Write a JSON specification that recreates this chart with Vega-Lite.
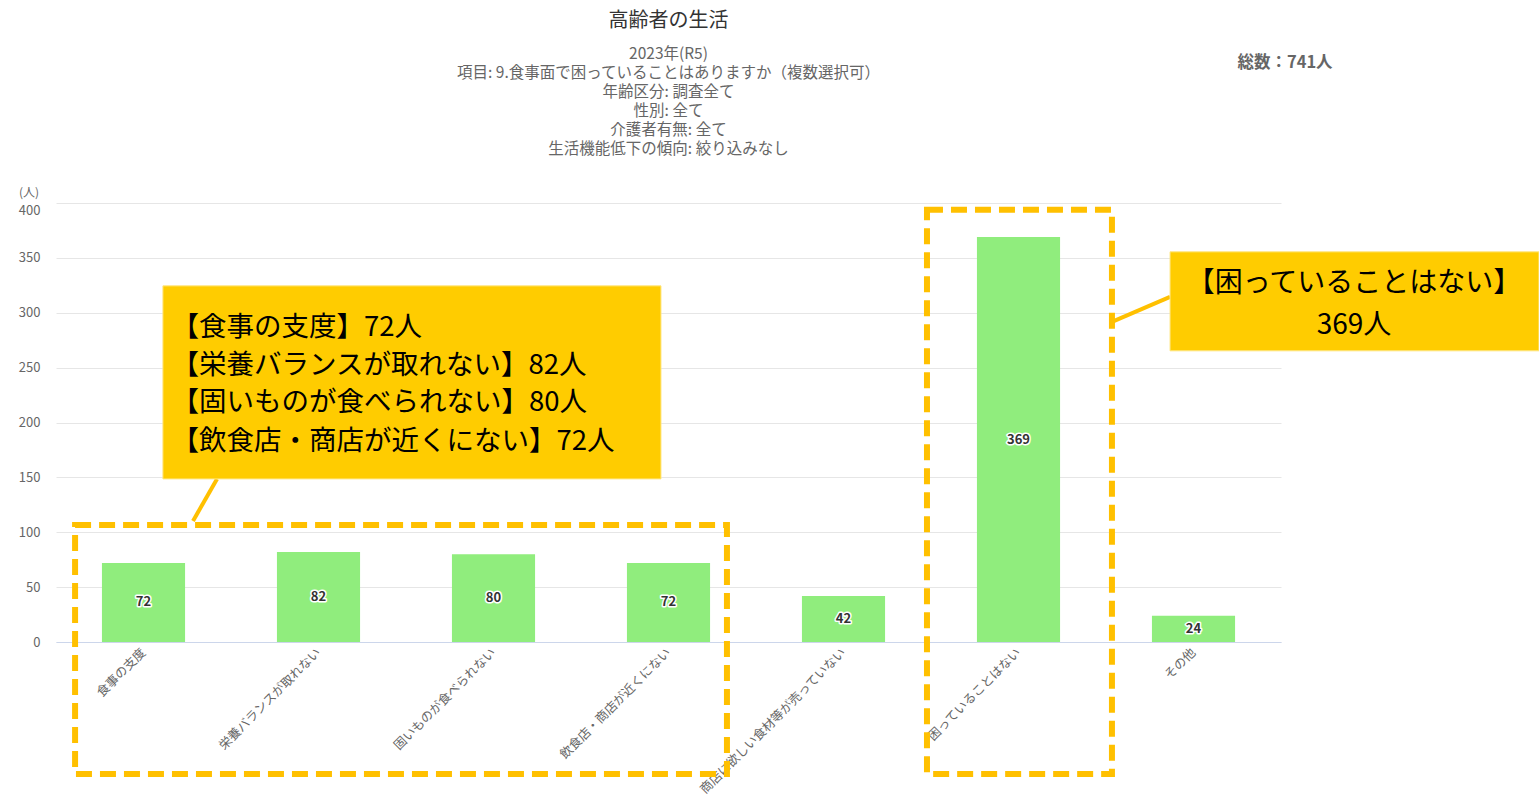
{
  "$schema": "https://vega.github.io/schema/vega-lite/v6.json",
  "width": 1225,
  "height": 439,
  "autosize": {"type": "none"},
  "padding": {"left": 56, "top": 203, "right": 258, "bottom": 156},
  "background": "white",
  "config": {"font": "Noto Sans CJK JP", "view": {"stroke": null}},
  "title": {
    "text": "高齢者の生活",
    "subtitle": ["2023年(R5)", "項目: 9.食事面で困っていることはありますか（複数選択可）", "年齢区分: 調査全て", "性別: 全て", "介護者有無: 全て", "生活機能低下の傾向: 絞り込みなし"],
    "anchor": "middle",
    "frame": "group",
    "fontSize": 20,
    "fontWeight": "normal",
    "color": "#333333",
    "subtitleFontSize": 15.5,
    "subtitleColor": "#666666",
    "subtitleLineHeight": 19,
    "subtitlePadding": 16,
    "offset": -103
  },
  "datasets": {
    "answers": [
      {"item": "食事の支度", "count": 72},
      {"item": "栄養バランスが取れない", "count": 82},
      {"item": "固いものが食べられない", "count": 80},
      {"item": "飲食店・商店が近くにない", "count": 72},
      {"item": "商店に欲しい食材等が売っていない", "count": 42},
      {"item": "困っていることはない", "count": 369},
      {"item": "その他", "count": 24}
    ],
    "boxes": [
      {"x1": 0.109, "x2": 3.834, "y1": 106.7, "y2": -120.3},
      {"x1": 4.977, "x2": 6.034, "y1": 393.8, "y2": -120.3}
    ],
    "callouts": [
      {"x1": 0.611, "x2": 3.457, "y1": 324.5, "y2": 148.6},
      {"x1": 6.366, "x2": 8.474, "y1": 355.5, "y2": 265.3}
    ],
    "connectors": [
      {"x1": 0.92, "y1": 148.6, "x2": 0.783, "y2": 110.3},
      {"x1": 6.366, "y1": 314.5, "x2": 6.034, "y2": 291.7}
    ],
    "calloutLeft": [
      {"x": 0.66, "y": 286.2, "label": "【食事の支度】72人"},
      {"x": 0.66, "y": 251.6, "label": "【栄養バランスが取れない】82人"},
      {"x": 0.66, "y": 217.9, "label": "【固いものが食べられない】80人"},
      {"x": 0.66, "y": 182.3, "label": "【飲食店・商店が近くにない】72人"}
    ],
    "calloutRight": [
      {"x": 7.417, "y": 326.3, "label": "【困っていることはない】"},
      {"x": 7.417, "y": 288.1, "label": "369人"}
    ],
    "total": [
      {"x": 7.023, "y": 527.8, "label": "総数：741人"}
    ],
    "unit": [
      {"x": -0.154, "y": 409.5, "label": "(人)"}
    ]
  },
  "layer": [
    {
      "data": {"name": "answers"},
      "transform": [{"calculate": "datum.count / 2", "as": "mid"}],
      "encoding": {
        "x": {
          "field": "item",
          "type": "nominal",
          "sort": null,
          "scale": {"paddingInner": 0.525, "paddingOuter": 0.2625},
          "axis": {
            "title": null,
            "labelAngle": -45,
            "labelAlign": "right",
            "labelBaseline": "middle",
            "labelFontSize": 12.5,
            "labelColor": "#666666",
            "labelPadding": 8,
            "labelLimit": 400,
            "ticks": false,
            "domainColor": "#ccd6eb",
            "grid": false
          }
        }
      },
      "layer": [
        {
          "mark": {"type": "bar", "color": "#90ED7D"},
          "encoding": {
            "y": {
              "field": "count",
              "type": "quantitative",
              "title": null,
              "scale": {"domain": [0, 400], "nice": false},
              "axis": {
                "title": null,
                "values": [0, 50, 100, 150, 200, 250, 300, 350, 400],
                "gridColor": "#e6e6e6",
                "domain": false,
                "ticks": false,
                "labelPadding": 16,
                "labelFontSize": 13,
                "labelColor": "#666666",
                "labelOffset": {"condition": {"test": "datum.value === 400", "value": 7}, "value": 0}
              }
            }
          }
        },
        {
          "mark": {"type": "text", "fontSize": 13, "fontWeight": "bold", "stroke": "white", "strokeWidth": 3, "strokeJoin": "round", "color": "white"},
          "encoding": {
            "y": {"field": "mid", "type": "quantitative", "title": null},
            "text": {"field": "count", "type": "quantitative"}
          }
        },
        {
          "mark": {"type": "text", "fontSize": 13, "fontWeight": "bold", "color": "#333333"},
          "encoding": {
            "y": {"field": "mid", "type": "quantitative", "title": null},
            "text": {"field": "count", "type": "quantitative"}
          }
        }
      ]
    },
    {
      "encoding": {
        "x": {"type": "quantitative", "scale": {"domain": [0, 7], "nice": false, "zero": false}, "axis": null}
      },
      "layer": [
        {
          "data": {"name": "boxes"},
          "mark": {"type": "rect", "fill": null, "stroke": "#FFC000", "strokeWidth": 6, "strokeDash": [16, 8], "clip": false},
          "encoding": {
            "x": {"field": "x1", "type": "quantitative", "scale": {"domain": [0, 7], "nice": false, "zero": false}, "axis": null},
            "x2": {"field": "x2"},
            "y": {"field": "y1", "type": "quantitative", "title": null},
            "y2": {"field": "y2"}
          }
        },
        {
          "data": {"name": "connectors"},
          "mark": {"type": "rule", "stroke": "#FFC000", "strokeWidth": 4},
          "encoding": {
            "x": {"field": "x1", "type": "quantitative", "scale": {"domain": [0, 7], "nice": false, "zero": false}, "axis": null},
            "x2": {"field": "x2"},
            "y": {"field": "y1", "type": "quantitative", "title": null},
            "y2": {"field": "y2"}
          }
        },
        {
          "data": {"name": "callouts"},
          "mark": {"type": "rect", "fill": "#FFCC00", "stroke": "#FFE680", "strokeWidth": 1, "clip": false},
          "encoding": {
            "x": {"field": "x1", "type": "quantitative", "scale": {"domain": [0, 7], "nice": false, "zero": false}, "axis": null},
            "x2": {"field": "x2"},
            "y": {"field": "y1", "type": "quantitative", "title": null},
            "y2": {"field": "y2"}
          }
        },
        {
          "data": {"name": "calloutLeft"},
          "mark": {"type": "text", "align": "left", "baseline": "middle", "fontSize": 27.5, "color": "#000000"},
          "encoding": {
            "x": {"field": "x", "type": "quantitative", "scale": {"domain": [0, 7], "nice": false, "zero": false}, "axis": null},
            "y": {"field": "y", "type": "quantitative", "title": null},
            "text": {"field": "label"}
          }
        },
        {
          "data": {"name": "calloutRight"},
          "mark": {"type": "text", "align": "center", "baseline": "middle", "fontSize": 28, "color": "#000000"},
          "encoding": {
            "x": {"field": "x", "type": "quantitative", "scale": {"domain": [0, 7], "nice": false, "zero": false}, "axis": null},
            "y": {"field": "y", "type": "quantitative", "title": null},
            "text": {"field": "label"}
          }
        },
        {
          "data": {"name": "total"},
          "mark": {"type": "text", "align": "center", "baseline": "middle", "fontSize": 16.5, "fontWeight": "bold", "color": "#666666"},
          "encoding": {
            "x": {"field": "x", "type": "quantitative", "scale": {"domain": [0, 7], "nice": false, "zero": false}, "axis": null},
            "y": {"field": "y", "type": "quantitative", "title": null},
            "text": {"field": "label"}
          }
        },
        {
          "data": {"name": "unit"},
          "mark": {"type": "text", "align": "center", "baseline": "middle", "fontSize": 12, "color": "#666666"},
          "encoding": {
            "x": {"field": "x", "type": "quantitative", "scale": {"domain": [0, 7], "nice": false, "zero": false}, "axis": null},
            "y": {"field": "y", "type": "quantitative", "title": null},
            "text": {"field": "label"}
          }
        }
      ]
    }
  ],
  "resolve": {"scale": {"x": "independent"}}
}
